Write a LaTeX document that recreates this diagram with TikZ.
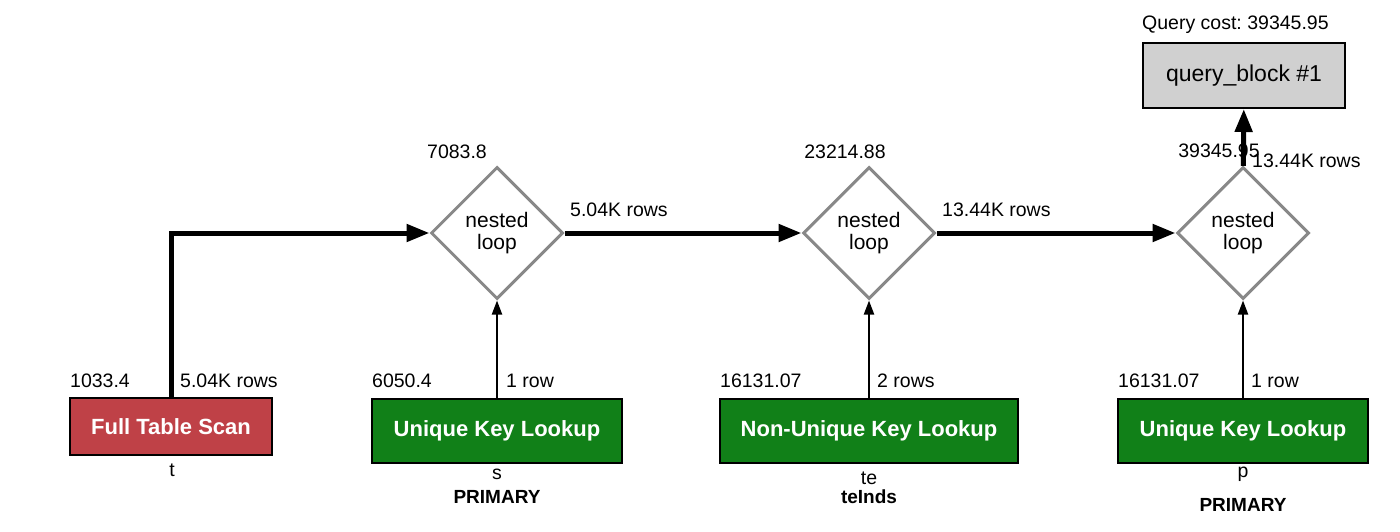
\documentclass[tikz,border=0pt]{standalone}
\usepackage{fontspec}
\setmainfont{Liberation Sans}
\usetikzlibrary{shapes.geometric,arrows.meta}
\frenchspacing

\definecolor{scanred}{RGB}{191,65,71}
\definecolor{lookupgreen}{RGB}{17,128,24}
\definecolor{loopgray}{RGB}{136,136,136}
\definecolor{blockgray}{RGB}{208,208,208}

\tikzset{
    opbox/.style={draw=black, line width=2pt, text=white, inner sep=0pt,
        font=\fontsize{22}{24}\selectfont\bfseries, minimum width=202pt},
    scanbox/.style={opbox, fill=scanred, minimum height=57pt},
    lookupbox/.style={opbox, fill=lookupgreen, minimum height=64pt},
    joinloop/.style={shape=diamond, draw=loopgray, line width=3pt, inner sep=0pt,
        minimum width=132pt, minimum height=132pt, align=center,
        font=\fontsize{21}{22}\selectfont},
    blockbox/.style={draw=black, line width=2pt, fill=blockgray, inner sep=0pt,
        minimum width=202pt, minimum height=65pt, font=\fontsize{23}{26}\selectfont},
    lbl/.style={inner sep=0pt, font=\fontsize{19.5}{22}\selectfont},
    keylbl/.style={lbl, font=\fontsize{19}{22}\selectfont\bfseries},
    rowflow/.style={line width=5pt, -{Triangle[length=23pt, width=17pt]}},
    rowfeed/.style={line width=2pt, -{Triangle[length=14pt, width=10pt]}}
}

\begin{document}
\begin{tikzpicture}[x=1pt, y=-1pt]
            \useasboundingbox (0,0) rectangle (1400,532);

            \node[blockbox] (qb) at (1244,75.5) {query\_block \#1};
            \node[lbl, anchor=west] (qcost) at (1142,25) {Query cost: 39345.95};

            \node[joinloop] (nl1) at (497,233) {nested\\loop};
            \node[joinloop] (nl2) at (869,233) {nested\\loop};
            \node[joinloop] (nl3) at (1243,233) {nested\\loop};

            \node[scanbox, minimum width=202pt] (fts) at (171,426.5) {Full Table Scan};
            \node[lookupbox, minimum width=250pt] (uks) at (497,431) {\raisebox{3pt}{Unique Key Lookup}};
            \node[lookupbox, minimum width=298pt] (nuk) at (869,431) {\raisebox{3pt}{Non-Unique Key Lookup}};
            \node[lookupbox, minimum width=250pt] (ukp) at (1243,431) {\raisebox{3pt}{Unique Key Lookup}};

            % costs and row counts
            \node[lbl, anchor=west] (ftscost) at (70,381) {1033.4};
            \node[lbl, anchor=west] (ftsrows) at (180,381) {5.04K rows};
            \node[lbl, anchor=west] (ukscost) at (372,381) {6050.4};
            \node[lbl, anchor=west] (uksrows) at (506,381) {1 row};
            \node[lbl, anchor=west] (nukcost) at (720,381) {16131.07};
            \node[lbl, anchor=west] (nukrows) at (877,381) {2 rows};
            \node[lbl, anchor=west] (ukpcost) at (1118,381) {16131.07};
            \node[lbl, anchor=west] (ukprows) at (1251,381) {1 row};

            \node[lbl] (nl1cost) at (457,152) {7083.8};
            \node[lbl, anchor=west] (nl1rows) at (570,210) {5.04K rows};
            \node[lbl] (nl2cost) at (845,152) {23214.88};
            \node[lbl, anchor=west] (nl2rows) at (942,210) {13.44K rows};
            \node[lbl] (nl3cost) at (1219,151) {39345.95};
            \node[lbl, anchor=west] (nl3rows) at (1252,161) {13.44K rows};

            % tables and keys
            \node[lbl] (tblt) at (172,470) {t};
            \node[lbl] (tbls) at (497,474) {s};
            \node[keylbl] (keys) at (497,497) {PRIMARY};
            \node[lbl] (tblte) at (869,478) {te};
            \node[keylbl] (keyte) at (869,497) {teInds};
            \node[lbl] (tblp) at (1243,474) {p};
            \node[keylbl] (keyp) at (1243,505) {PRIMARY};

            \draw [rowflow] (fts.north) |- (nl1.west);
            \path [rowflow] (nl1) edge node {} (nl2);
            \path [rowflow] (nl2) edge node {} (nl3);
            \path [rowflow] (nl3) edge node {} (qb);

            \path [rowfeed] (uks) edge node {} (nl1);
            \path [rowfeed] (nuk) edge node {} (nl2);
            \path [rowfeed] (ukp) edge node {} (nl3);
        \end{tikzpicture}
\end{document}
